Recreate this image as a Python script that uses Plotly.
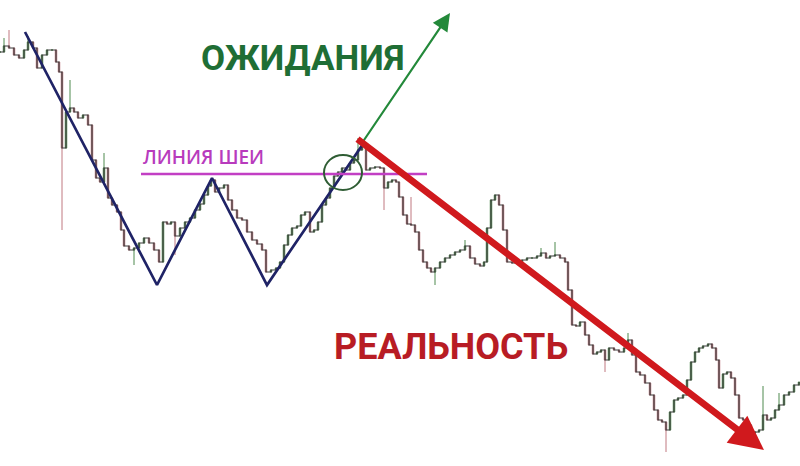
import plotly.graph_objects as go

# ---- price series (x position, close price) ----
bar_x = [0, 4, 9, 14, 19, 24, 28, 33, 37, 42, 47, 52, 56, 59, 62, 66, 70, 74, 78, 83,
         88, 92, 96, 100, 104, 108, 112, 117, 121, 124, 129, 134, 139, 144, 149, 154, 159, 163, 167, 171,
         175, 180, 185, 190, 195, 200, 204, 208, 211, 215, 219, 224, 228, 232, 237, 242, 247, 252, 257, 262,
         266, 271, 276, 280, 284, 288, 292, 297, 301, 305, 310, 314, 318, 322, 326, 330, 334, 338, 342, 346,
         350, 354, 358, 362, 366, 370, 375, 380, 384, 388, 392, 396, 399, 403, 407, 411, 415, 419, 423, 427,
         431, 435, 440, 445, 450, 455, 460, 465, 470, 475, 480, 484, 487, 491, 495, 499, 503, 507, 512, 517,
         522, 527, 532, 537, 541, 546, 550, 555, 560, 565, 568, 572, 576, 580, 585, 589, 593, 597, 601, 605,
         609, 614, 619, 624, 628, 632, 636, 640, 645, 650, 654, 658, 662, 666, 670, 674, 678, 683, 687, 691,
         695, 699, 703, 708, 712, 716, 719, 723, 727, 731, 735, 739, 743, 747, 751, 755, 759, 763, 767, 771,
         775, 779, 784, 789, 794, 799]
close = [414, 420, 418, 411, 408, 416, 424, 418, 398, 411, 416, 416, 404, 394, 318, 354, 358, 354, 348, 351,
         341, 306, 288, 284, 298, 268, 261, 254, 236, 220, 216, 218, 223, 228, 223, 216, 204, 244, 242, 244,
         230, 238, 244, 248, 256, 262, 271, 280, 286, 274, 278, 281, 266, 256, 248, 246, 234, 226, 222, 216,
         194, 196, 198, 204, 221, 231, 238, 240, 251, 254, 234, 236, 244, 261, 268, 278, 290, 294, 298, 296,
         303, 306, 316, 321, 296, 298, 299, 298, 278, 284, 286, 284, 269, 251, 242, 241, 234, 216, 204, 198,
         194, 198, 204, 208, 211, 214, 216, 220, 208, 202, 200, 204, 238, 266, 271, 261, 236, 204, 203, 204,
         206, 208, 208, 210, 213, 208, 210, 211, 208, 204, 176, 141, 140, 144, 131, 121, 112, 114, 116, 106,
         118, 116, 114, 118, 126, 111, 94, 91, 83, 71, 56, 46, 44, 36, 54, 66, 68, 71, 86, 104,
         114, 118, 120, 122, 118, 106, 78, 92, 94, 88, 71, 48, 46, 41, 33, 34, 36, 51, 46, 48,
         56, 61, 71, 74, 81, 84]

# wick extremes (x position -> price)
spike_high = {4: 428, 9: 436, 28: 430, 70: 386, 104: 313, 358: 328, 411: 269, 465: 226,
              541: 218, 555: 224, 628: 133, 763: 80, 779: 73}
spike_low = {62: 236, 134: 201, 175: 211, 384: 256, 435: 181, 605: 94, 666: 14}

# ---- pattern drawn on the chart ----
pattern_x = [25, 157, 212, 267, 363]
pattern_y = [434, 181, 288, 181, 322]
neck_x = [141, 427]
neck_y = [292, 292]
circle_box = [324, 362, 276, 311]          # x0, x1, y0, y1
expect_from, expect_to = (362, 323), (450, 453)
real_from, real_to = (356, 328), (764, 16)

opens = [close[0]] + close[:-1]
highs = [max(o, c, spike_high.get(x, -1e9)) for x, o, c in zip(bar_x, opens, close)]
lows = [min(o, c, spike_low.get(x, 1e9)) for x, o, c in zip(bar_x, opens, close)]

fig = go.Figure()
fig.add_trace(go.Scatter(x=bar_x, y=close, mode="lines", line=dict(color="#3a3a3a", width=1.2, shape="hv"),
                         hoverinfo="skip"))
fig.add_trace(go.Candlestick(x=bar_x, open=opens, high=highs, low=lows, close=close, whiskerwidth=0,
                             increasing=dict(line=dict(color="#4f8a4f", width=1), fillcolor="#92d392"),
                             decreasing=dict(line=dict(color="#c07880", width=1), fillcolor="#e8a3ad")))
fig.add_trace(go.Scatter(x=pattern_x, y=pattern_y, mode="lines", line=dict(color="#1f2366", width=2.7)))
fig.add_trace(go.Scatter(x=neck_x, y=neck_y, mode="lines", line=dict(color="#c23fc4", width=2.5)))

fig.add_shape(type="circle", xref="x", yref="y", x0=circle_box[0], x1=circle_box[1],
              y0=circle_box[2], y1=circle_box[3], line=dict(color="#2f5d34", width=2))

fig.add_annotation(x=expect_to[0], y=expect_to[1], ax=expect_from[0], ay=expect_from[1],
                   xref="x", yref="y", axref="x", ayref="y", text="", showarrow=True,
                   arrowhead=2, arrowsize=1.6, arrowwidth=2.2, arrowcolor="#23893a")
fig.add_annotation(x=real_to[0], y=real_to[1], ax=real_from[0], ay=real_from[1],
                   xref="x", yref="y", axref="x", ayref="y", text="", showarrow=True,
                   arrowhead=2, arrowsize=1.0, arrowwidth=6.8, arrowcolor="#d0191d")

fig.add_annotation(x=141, y=309, xref="x", yref="y", text="ЛИНИЯ ШЕИ", showarrow=False,
                   xanchor="left", yanchor="middle",
                   font=dict(family="Open Sans", size=19, weight=600, color="#b83bbd"))
fig.add_annotation(x=302, y=408, xref="x", yref="y", text="<b>ОЖИДАНИЯ</b>", showarrow=False,
                   xanchor="center", yanchor="middle",
                   font=dict(family="Roboto", size=35, color="#1f6e35"))
fig.add_annotation(x=451, y=119, xref="x", yref="y", text="<b>РЕАЛЬНОСТЬ</b>", showarrow=False,
                   xanchor="center", yanchor="middle",
                   font=dict(family="Roboto", size=36, color="#b81c24"))

fig.update_layout(width=800, height=466, margin=dict(l=0, r=0, t=0, b=0),
                  paper_bgcolor="white", plot_bgcolor="white", showlegend=False,
                  xaxis=dict(range=[0, 800], visible=False, rangeslider=dict(visible=False)),
                  yaxis=dict(range=[0, 466], visible=False))
fig.write_html("out.html", config={"displayModeBar": False},
               post_script="document.body.style.margin='0';document.body.style.overflow='hidden';")
